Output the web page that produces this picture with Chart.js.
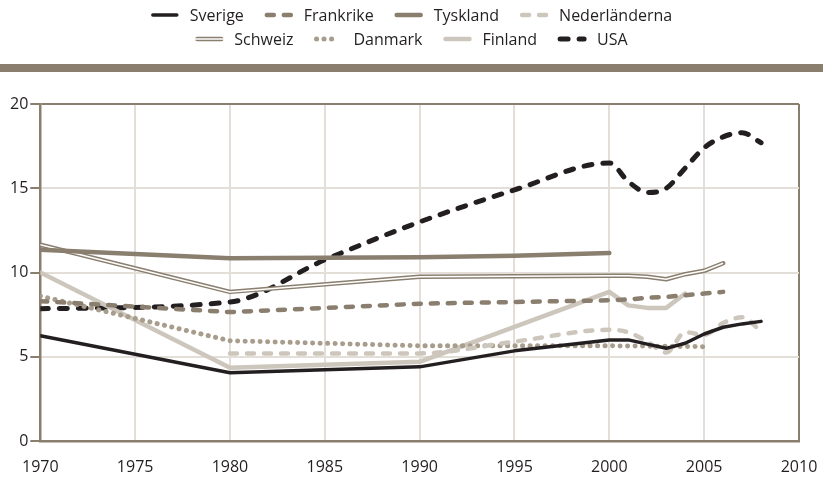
<!DOCTYPE html>
<html lang="sv">
<head>
<meta charset="utf-8">
<title>Utveckling 1970–2008</title>
<script src="https://cdn.jsdelivr.net/npm/chart.js@4/dist/chart.umd.min.js"></script>
<style>
    html, body { margin: 0; padding: 0; background: #ffffff; }
    #wrap { width: 823px; height: 478px; position: relative; }
</style>
</head>
<body>
<div id="wrap"><canvas id="diagram"></canvas></div>
<script>
/**** Data ****/
const years = [1970, 1975, 1980, 1985, 1990, 1995, 2000, 2001, 2002, 2003, 2004, 2005, 2006, 2007, 2008];

const sverige       = [6.25, null, 4.05, null, 4.4, 5.35, 6.0, 6.0, 5.75, 5.5, 5.8, 6.35, 6.75, 6.95, 7.1];
const frankrike     = [8.3, null, 7.65, null, 8.15, 8.25, 8.35, 8.4, 8.5, 8.55, 8.65, 8.75, 8.85, null, null];
const tyskland      = [11.35, null, 10.85, null, 10.9, 11.0, 11.15, null, null, null, null, null, null, null, null];
const nederlanderna = [null, null, 5.2, null, 5.2, 5.9, 6.6, 6.45, 5.9, 5.25, 6.45, 6.3, 7.0, 7.35, 6.5];
const schweiz       = [11.65, null, 8.85, null, 9.75, 9.78, 9.8, 9.8, 9.75, 9.6, 9.9, 10.1, 10.55, null, null];
const danmark       = [8.6, null, 5.95, null, 5.65, 5.65, 5.65, null, null, null, null, 5.6, null, null, null];
const finland       = [10.0, null, 4.35, null, 4.7, null, 8.85, 8.05, 7.9, 7.9, 8.75, null, null, null, null];
const usa           = [7.85, null, 8.25, 10.75, 13.0, 14.9, 16.5, 15.4, 14.75, 15.0, 16.2, 17.4, 18.05, 18.3, 17.7];

const yTicks = [0, 5, 10, 15, 20];
const xTicks = [1970, 1975, 1980, 1985, 1990, 1995, 2000, 2005, 2010];

/* Färger */
const svart = '#231f20';
const brun = '#8a7e6f';
const ljus = '#cdc6bc';
const prick = '#a89d8c';
const rutnat = '#e3dfd8';

/* Gör om en serie till {x, y}-punkter */
function punkter(values) {
    return years.map((year, i) => ({ x: year, y: values[i] }));
}

/* Linjeserierna, i samma ordning som förklaringen */
const serier = [
    { label: 'Sverige', data: sverige, color: svart, width: 3.5, dash: [] },
    { label: 'Frankrike', data: frankrike, color: brun, width: 4.5, dash: [7, 10] },
    { label: 'Tyskland', data: tyskland, color: brun, width: 4.5, dash: [] },
    { label: 'Nederländerna', data: nederlanderna, color: ljus, width: 4.5, dash: [7, 10], mjuk: true },
    { label: 'Schweiz', data: schweiz, color: brun, width: 4.5, dash: [], dubbel: true },
    { label: 'Danmark', data: danmark, color: prick, width: 5, dash: [0.1, 7.4] },
    { label: 'Finland', data: finland, color: ljus, width: 4.5, dash: [] },
    { label: 'USA', data: usa, color: svart, width: 5, dash: [8, 11], mjuk: true }
];

const datasets = [];
serier.forEach(s => {
    if (s.dubbel) {
        /* Vit mittlinje som ger dubbellinjen */
        datasets.push({
            label: s.label + ' (inre)',
            data: punkter(s.data),
            borderColor: '#ffffff',
            borderWidth: 1.5,
            pointRadius: 0,
            spanGaps: true,
            tension: 0
        });
    }
    datasets.push({
        label: s.label,
        data: punkter(s.data),
        borderColor: s.color,
        borderWidth: s.width,
        borderDash: s.dash,
        borderCapStyle: 'round',
        borderJoinStyle: 'round',
        pointRadius: 0,
        spanGaps: true,
        tension: 0,
        cubicInterpolationMode: s.mjuk ? 'monotone' : 'default'
    });
});

/* Brunt band under förklaringen */
const bandPlugin = {
    id: 'band',
    beforeDraw(chart) {
        const ctx = chart.ctx;
        ctx.save();
        ctx.fillStyle = brun;
        ctx.fillRect(0, 64, chart.width, 8);
        ctx.restore();
    }
};

/* Egen förklaring i två rader, ritad med seriernas linjestilar */
const forklaringPlugin = {
    id: 'forklaring',
    afterDraw(chart) {
        const ctx = chart.ctx;
        const rader = [serier.slice(0, 4), serier.slice(4)];
        const radY = [15, 39];
        const symbolW = 28, textGap = 11, itemGap = 21;
        ctx.save();
        ctx.font = '16px "Open Sans"';
        rader.forEach((rad, r) => {
            let total = 0;
            rad.forEach((s, i) => {
                total += symbolW + textGap + ctx.measureText(s.label).width;
                if (i > 0) total += itemGap;
            });
            let x = (chart.width - total) / 2;
            const y = radY[r];
            rad.forEach(s => {
                ctx.lineCap = 'round';
                ctx.setLineDash(s.dash);
                ctx.strokeStyle = s.color;
                ctx.lineWidth = s.width;
                const len = s.label === 'Danmark' ? 16 : symbolW - 4;
                ctx.beginPath();
                ctx.moveTo(x + 2, y);
                ctx.lineTo(x + 2 + len, y);
                ctx.stroke();
                if (s.dubbel) {
                    ctx.strokeStyle = '#ffffff';
                    ctx.lineWidth = 1.5;
                    ctx.lineCap = 'butt';
                    ctx.beginPath();
                    ctx.moveTo(x - 1, y);
                    ctx.lineTo(x + 5 + len, y);
                    ctx.stroke();
                }
                ctx.setLineDash([]);
                ctx.fillStyle = svart;
                ctx.textBaseline = 'alphabetic';
                ctx.fillText(s.label, x + symbolW + textGap, y + 5.5);
                x += symbolW + textGap + ctx.measureText(s.label).width + itemGap;
            });
        });
        ctx.restore();
    }
};

const ctx = document.getElementById('diagram').getContext('2d');
const diagram = new Chart(ctx, {
    type: 'line',
    data: { datasets: datasets },
    options: {
        responsive: true,
        maintainAspectRatio: false,
        animation: false,
        layout: { padding: { top: 104, left: 8, right: 24, bottom: 0 } },
        plugins: {
            legend: { display: false },
            tooltip: { enabled: false }
        },
        scales: {
            x: {
                type: 'linear',
                min: xTicks[0],
                max: xTicks[xTicks.length - 1],
                afterBuildTicks: axis => { axis.ticks = xTicks.map(v => ({ value: v })); },
                afterFit: axis => {
                    /* fast höjd, och ingen extra marginal för sista etiketten */
                    axis.height = 37;
                    axis.paddingLeft = 0;
                    axis.paddingRight = 0;
                },
                ticks: {
                    color: svart,
                    font: { family: '"Open Sans"', size: 16 },
                    padding: 17,
                    maxRotation: 0,
                    callback: v => String(v)
                },
                grid: {
                    drawTicks: false,
                    lineWidth: 2,
                    color: c => (c.tick && c.tick.value === 2010 ? brun : rutnat)
                },
                border: { color: brun, width: 2.5 }
            },
            y: {
                min: yTicks[0],
                max: yTicks[yTicks.length - 1],
                afterBuildTicks: axis => { axis.ticks = yTicks.map(v => ({ value: v })); },
                ticks: {
                    color: svart,
                    font: { family: '"Open Sans"', size: 16 },
                    padding: 2
                },
                grid: {
                    tickLength: 10,
                    tickColor: brun,
                    lineWidth: 2,
                    color: c => (c.tick && c.tick.value === 20 ? brun : rutnat)
                },
                border: { color: brun, width: 2.5 }
            }
        }
    },
    plugins: [bandPlugin, forklaringPlugin]
});
</script>
</body>
</html>
